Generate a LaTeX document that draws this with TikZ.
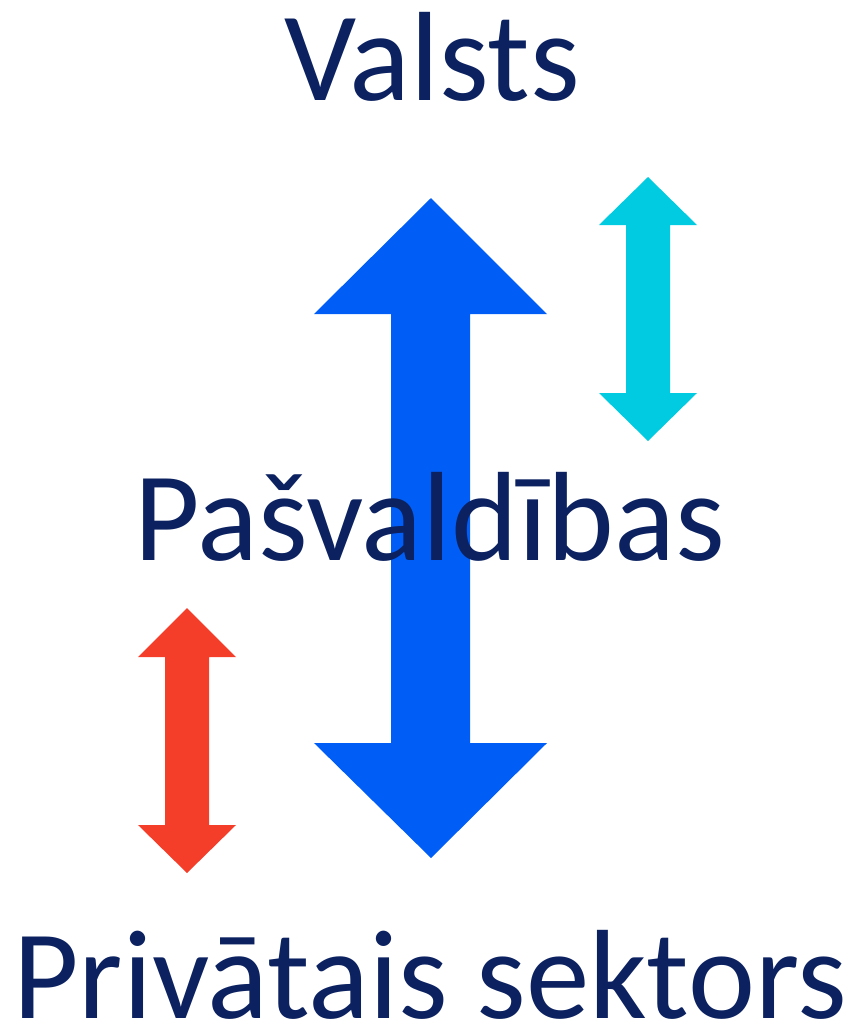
\documentclass[tikz,border=0pt]{standalone}
\usepackage{fontspec}
\setmainfont{Carlito}
\definecolor{navy}{HTML}{0B2160}
\definecolor{bigblue}{HTML}{005EF7}
\definecolor{cyanarr}{HTML}{00CBE0}
\definecolor{redarr}{HTML}{F43E2A}
\begin{document}
\begin{tikzpicture}[x=1pt,y=-1pt,
  lbl/.style={text=navy,font=\fontsize{127}{127}\selectfont,anchor=base,inner sep=0pt}]
\useasboundingbox (0,0) rectangle (858,1029);
% big blue double arrow
\fill[bigblue] (431,198) -- (547,314) -- (470,314) -- (470,743) -- (547,743) -- (431,858)
  -- (314,743) -- (391,743) -- (391,314) -- (314,314) -- cycle;
% cyan double arrow
\fill[cyanarr] (648,177) -- (697,225) -- (670,225) -- (670,393) -- (697,393) -- (648,441)
  -- (599,393) -- (626,393) -- (626,225) -- (599,225) -- cycle;
% red double arrow
\fill[redarr] (187,608) -- (236,657) -- (209,657) -- (209,825) -- (236,825) -- (187,873)
  -- (138,825) -- (165,825) -- (165,657) -- (138,657) -- cycle;
\node[lbl] (valsts) at (432,100) {Valsts};
\node[lbl] (pasv) at (430,560) {Pašvaldības};
\node[lbl] (priv) at (430,1018) {Privātais sektors};
\end{tikzpicture}
\end{document}
